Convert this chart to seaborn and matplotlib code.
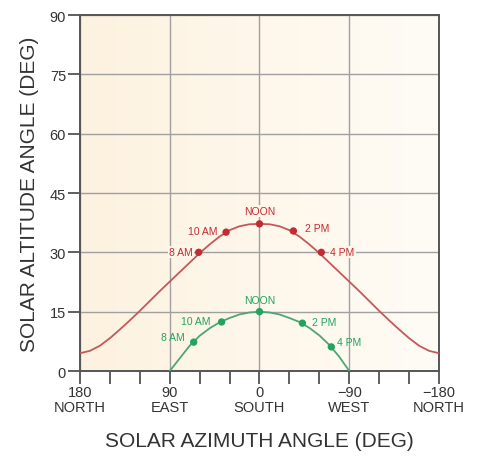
import numpy as np
import pandas as pd
import matplotlib
matplotlib.use("Agg")
import matplotlib.pyplot as plt
from matplotlib.colors import LinearSegmentedColormap
import seaborn as sns

# ---- data ----
red_az = [180, 170, 160, 150, 140, 130, 120, 110, 100, 90, 80, 70, 60, 50, 40, 30, 20, 10, 0,
          -10, -20, -30, -40, -50, -60, -70, -80, -90, -100, -110, -120, -130, -140, -150, -160, -170, -180]
red_alt = [4.5, 5.1, 6.4, 8.3, 10.5, 12.8, 15.2, 17.7, 20.2, 22.6, 25.0, 27.4, 29.8, 32.0, 34.0, 35.6, 36.6, 37.1, 37.2,
           37.1, 36.6, 35.6, 34.0, 32.0, 29.8, 27.4, 25.0, 22.6, 20.2, 17.7, 15.2, 12.8, 10.5, 8.3, 6.4, 5.1, 4.5]

green_az = [90, 80, 70, 60, 50, 40, 30, 20, 10, 0, -10, -20, -30, -40, -50, -60, -70, -80, -90]
green_alt = [0.0, 3.2, 6.4, 8.9, 10.8, 12.3, 13.4, 14.3, 14.8, 15.0, 14.8, 14.3, 13.4, 12.4, 10.9, 9.0, 6.6, 3.6, 0.0]

hour_labels = ["8 AM", "10 AM", "NOON", "2 PM", "4 PM"]
red_pt_az = [61, 33.5, 0, -34, -62]
red_pt_alt = [30.0, 35.1, 37.2, 35.4, 30.0]
green_pt_az = [66, 38, 0, -43, -72]
green_pt_alt = [7.3, 12.4, 15.0, 12.1, 6.1]

xticks = [180, 90, 0, -90, -180]
xtick_labels = ["180\nNORTH", "90\nEAST", "0\nSOUTH", "\u221290\nWEST", "\u2212180\nNORTH"]
yticks = [0, 15, 30, 45, 60, 75, 90]

# ---- styling ----
RED_LINE = "#c4585c"
RED = "#c42a33"
GREEN_LINE = "#4ea675"
GREEN = "#22a35e"
BG = "#fdf6e9"
TXT = "#333333"

sns.set_theme(style="white")
plt.rcParams["font.family"] = ["Liberation Sans", "DejaVu Sans"]

fig = plt.figure(figsize=(4.79, 4.60), dpi=100)
ax = fig.add_axes([0.167, 0.1913, 0.7495, 0.7739])

# background gradient
grad = np.linspace(0, 1, 256).reshape(1, -1)
cmap = LinearSegmentedColormap.from_list("bg", ["#fdf2df", "#fffcf6"])
ax.imshow(grad, extent=[0, 1, 0, 1], transform=ax.transAxes, cmap=cmap, aspect="auto", zorder=0)

red_df = pd.DataFrame({"az": red_az, "alt": red_alt})
green_df = pd.DataFrame({"az": green_az, "alt": green_alt})
sns.lineplot(data=red_df, x="az", y="alt", sort=False, color=RED_LINE, lw=1.3, ax=ax, zorder=3)
sns.lineplot(data=green_df, x="az", y="alt", sort=False, color=GREEN_LINE, lw=1.3, ax=ax, zorder=3)
sns.scatterplot(x=red_pt_az, y=red_pt_alt, color=RED, s=28, edgecolor="none", ax=ax, zorder=4)
sns.scatterplot(x=green_pt_az, y=green_pt_alt, color=GREEN, s=28, edgecolor="none", ax=ax, zorder=4)

# label offsets (points) and alignments
red_off = [(-4.3, 0), (-6.5, 0.7), (0, 9.4), (8, 2), (6.5, 0)]
red_ha = ["right", "right", "center", "left", "left"]
green_off = [(-6.5, 3.6), (-8, 0.7), (0, 8.6), (7.2, 0.7), (4.3, 3.6)]
green_ha = ["right", "right", "center", "left", "left"]
for lab, x, y, off, ha in zip(hour_labels, red_pt_az, red_pt_alt, red_off, red_ha):
    ax.annotate(lab, (x, y), xytext=off, textcoords="offset points", ha=ha, va="center",
                fontsize=7.5, color=RED, zorder=5,
                bbox=dict(boxstyle="square,pad=0.1", fc=BG, ec="none"))
for lab, x, y, off, ha in zip(hour_labels, green_pt_az, green_pt_alt, green_off, green_ha):
    ax.annotate(lab, (x, y), xytext=off, textcoords="offset points", ha=ha, va="center",
                fontsize=7.5, color=GREEN, zorder=5)

ax.set_xlim(180, -180)
ax.set_ylim(0, 90)
ax.set_xticks(xticks)
ax.set_xticklabels(xtick_labels, fontsize=10.5, color=TXT, linespacing=1.1)
ax.set_xticks(list(range(150, -180, -30)), minor=True)
ax.set_yticks(yticks)
ax.set_yticklabels([str(v) for v in yticks], fontsize=10.5, color=TXT)
ax.tick_params(axis="both", which="both", direction="out", length=9, width=1.2,
               color="#444444", pad=1, bottom=True, left=True)

ax.grid(True, which="major", color="#a0a0a0", lw=1.0, zorder=1)
ax.set_axisbelow(True)
for sp in ax.spines.values():
    sp.set_color("#555555")
    sp.set_linewidth(1.4)
    sp.set_visible(True)

ax.set_xlabel("SOLAR AZIMUTH ANGLE (DEG)", fontsize=15, color=TXT, labelpad=12)
ax.set_ylabel("SOLAR ALTITUDE ANGLE (DEG)", fontsize=15, color=TXT, labelpad=8)

fig.savefig("out.png", dpi=100)
